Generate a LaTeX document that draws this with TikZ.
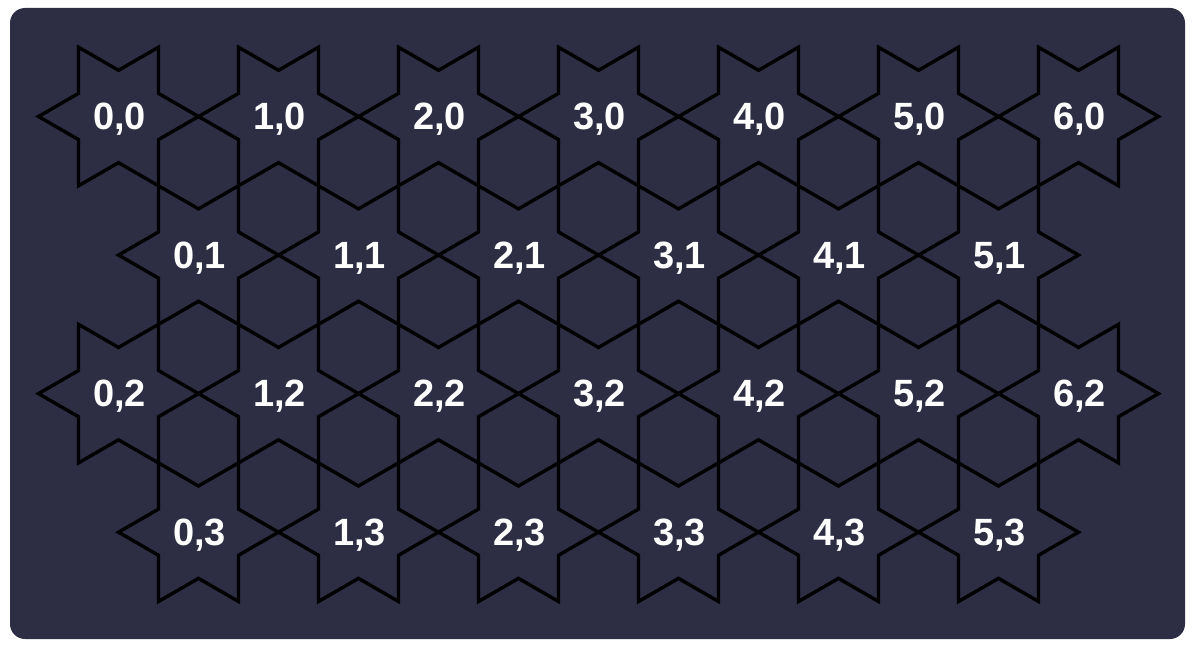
\documentclass[tikz,border=0pt]{standalone}
\usepackage{fontspec}
\setmainfont{Liberation Sans}
\definecolor{bg}{HTML}{2D2D44}
\begin{document}
\begin{tikzpicture}[x=1pt,y=-1pt,
  starline/.style={draw=black,line width=3.4pt,line join=miter},
  lab/.style={text=white,font=\fontsize{38}{44}\selectfont\bfseries,inner sep=0pt}]
\useasboundingbox (0,0) rectangle (1194,650);
\fill[bg,rounded corners=15pt] (10,8) rectangle (1185,639);
\foreach \j in {0,...,3}{
  \pgfmathtruncatemacro\odd{mod(\j,2)}
  \pgfmathtruncatemacro\n{\odd==1 ? 5 : 6}
  \foreach \i in {0,...,\n}{
    \pgfmathsetmacro\cx{118.5+160*\i+80*\odd}
    \pgfmathsetmacro\cy{116.5+138.564*\j}
    \draw[starline,shift={(\cx,\cy)}] (0:80) -- (30:46.19) -- (60:80) -- (90:46.19)
      -- (120:80) -- (150:46.19) -- (180:80) -- (210:46.19) -- (240:80)
      -- (270:46.19) -- (300:80) -- (330:46.19) -- cycle;
    \node[lab] (s\i-\j) at (\cx+1,\cy+3) {\i,\j};
  }
}
\end{tikzpicture}
\end{document}
